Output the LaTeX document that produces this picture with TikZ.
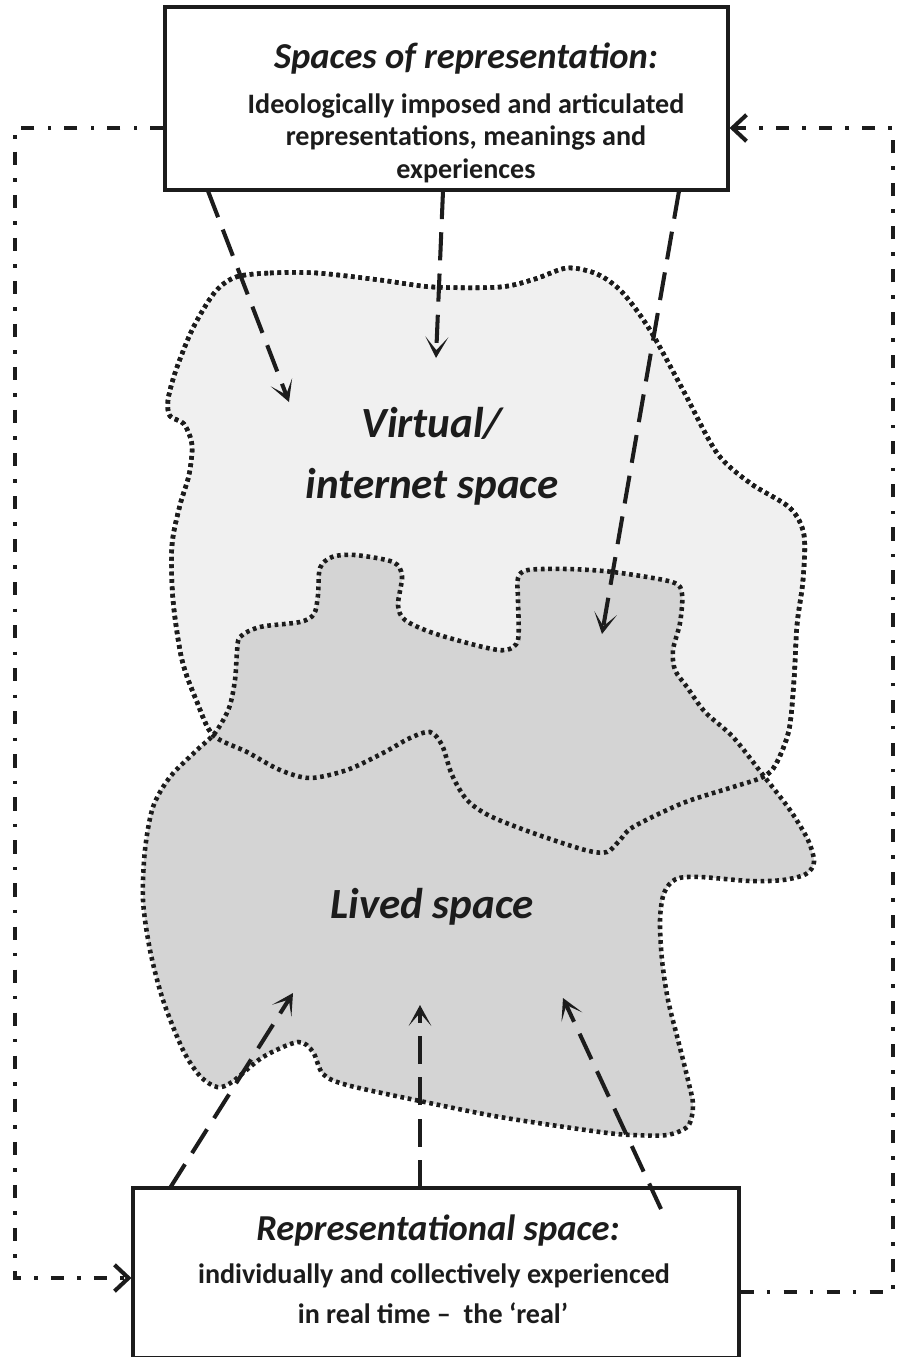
\documentclass[tikz,border=0pt]{standalone}
\usepackage{fontspec}
\setmainfont{Carlito}
\usetikzlibrary{arrows.meta}
\definecolor{virtualfill}{RGB}{240,240,240}
\definecolor{livedfill}{RGB}{212,212,212}
\definecolor{ink}{RGB}{28,28,28}
\begin{document}
\begin{tikzpicture}[x=0.02cm,y=-0.02cm,
  frame/.style={draw=ink, line width=1.8pt, fill=white, inner sep=0pt},
  blobline/.style={draw=ink, line width=2.6pt, dash pattern=on 2.1pt off 2.1pt},
  flow/.style={draw=ink, line width=2.3pt, dash pattern=on 16pt off 7.5pt,
    -{Stealth[length=12pt,width=13pt,inset=7.5pt]}},
  loopline/.style={draw=ink, line width=2.3pt,
    dash pattern=on 7.5pt off 7.5pt on 2pt off 7.5pt,
    -{Straight Barb[length=8pt,width=15pt]}},
  heading/.style={anchor=base, text=ink, font=\fontsize{20.8}{24}\selectfont\bfseries\itshape},
  bodyline/.style={anchor=base, text=ink, font=\fontsize{16}{18}\selectfont\bfseries},
  areaname/.style={anchor=base, text=ink, font=\fontsize{24.5}{28}\selectfont\bfseries\itshape}
]
\useasboundingbox (0,0) rectangle (906,1357);
\fill[white] (0,0) rectangle (906,1357);

% the two overlapping spaces
\path[fill=virtualfill, save path=\virtpath] plot[smooth cycle] coordinates {
  (236,277) (270,273) (317,273) (380,280) (433,287) (500,287) (535,279)
  (567,268) (597,274) (622,292) (650,330) (683,390) (717,453) (750,483)
  (790,508) (804,535) (803,580) (797,625) (794,680) (789,730) (776,764)
  (763,777) (733,787) (683,803) (633,827) (620,840) (607,852) (585,850)
  (533,833) (490,816) (467,800) (452,775) (442,745) (430,732) (410,738)
  (383,753) (347,770) (310,778) (280,770) (247,752) (213,735) (197,702)
  (182,660) (173,600) (172,545) (180,505) (189,475) (192,445) (184,424)
  (170,416) (168,400) (176,370) (193,328) (215,292)};
\draw[blobline, use path=\virtpath];
\path[fill=livedfill, save path=\livedpath] plot[smooth cycle] coordinates {
  (240,637) (260,627) (300,622) (314,614) (318,595) (320,568) (332,557)
  (355,555) (393,562) (402,576) (398,605) (405,620) (433,633) (483,647)
  (506,650) (518,640) (518,600) (518,578) (528,570) (567,569) (613,572)
  (672,582) (682,594) (680,623) (673,650) (675,670) (687,687) (705,712)
  (733,737) (763,775) (790,810) (808,840) (814,862) (806,874) (783,880)
  (750,881) (700,877) (676,879) (664,893) (660,920) (662,960) (668,1000)
  (678,1040) (688,1080) (693,1105) (688,1126) (667,1135) (633,1135)
  (600,1132) (500,1117) (420,1101) (347,1085) (323,1074) (313,1052)
  (298,1042) (263,1057) (232,1082) (217,1087) (200,1076) (183,1050)
  (163,1000) (150,950) (143,900) (145,850) (153,807) (170,777) (197,750)
  (215,733) (229,708) (235,680) (237,652)};
\draw[blobline, use path=\livedpath];
\draw[blobline, use path=\virtpath];

\node[areaname] (virt1) at (432,437) {Virtual/};
\node[areaname] (virt2) at (432,498) {internet space};
\node[areaname] (lived) at (432,918) {Lived space};

% boxes
\node[frame, minimum width=11.26cm, minimum height=3.66cm] (top) at (446.5,98.5) {};
\node[frame, minimum width=12.12cm, minimum height=3.4cm] (bot) at (436,1273) {};

\node[heading] (toph) at (466,68) {Spaces of representation:};
\node[bodyline] (topa) at (466,113) {Ideologically imposed and articulated};
\node[bodyline] (topb) at (466,145) {representations, meanings and};
\node[bodyline] (topc) at (466,178) {experiences};

\node[heading] (both) at (438,1240) {Representational space:};
\node[bodyline] (bota) at (434,1283) {individually and collectively experienced};
\node[bodyline] (botb) at (433,1323) {in real time – \ the ‘real’};

% arrows from the spaces of representation
\coordinate (s1) at (208,191); \coordinate (e1) at (289,402);
\coordinate (s2) at (443,191); \coordinate (e2) at (436,358);
\coordinate (s3) at (679,191); \coordinate (e3) at (602,634);
\draw[flow] (s1) -- (e1);
\draw[flow] (s2) -- (e2);
\draw[flow] (s3) -- (e3);

% arrows from the representational space
\coordinate (s4) at (170,1188); \coordinate (e4) at (293,993);
\coordinate (s5) at (420,1188); \coordinate (e5) at (420,1005);
\coordinate (s6) at (661,1209); \coordinate (e6) at (563,998);
\draw[flow] (s4) -- (e4);
\draw[flow] (s5) -- (e5);
\draw[flow] (s6) -- (e6);

% feedback loops
\coordinate (L1) at (15,128); \coordinate (L2) at (15,1278);
\coordinate (R1) at (893,1292); \coordinate (R2) at (893,128);
\draw[loopline] (top.west |- L1) -- (L1) -- (L2) -- (bot.west |- L2);
\draw[loopline] (bot.east |- R1) -- (R1) -- (R2) -- (top.east |- R2);
\end{tikzpicture}
\end{document}
